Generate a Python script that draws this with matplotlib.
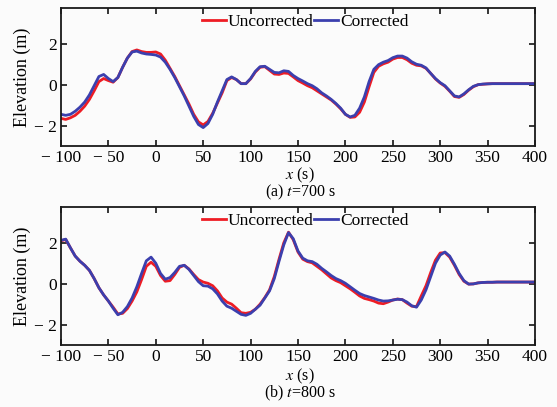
import numpy as np
import matplotlib.pyplot as plt

plt.rcParams['font.family'] = ['Liberation Serif', 'DejaVu Serif']
plt.rcParams['mathtext.fontset'] = 'stix'

# sample positions along the section
x = list(range(-100, 405, 5))

# (a) t = 700 s
a_uncorr = [-1.65, -1.70, -1.62, -1.50, -1.30, -1.05, -0.72, -0.30, 0.15, 0.30,
            0.20, 0.12, 0.35, 0.85, 1.30, 1.62, 1.70, 1.62, 1.58, 1.58,
            1.60, 1.50, 1.20, 0.80, 0.40, -0.05, -0.50, -0.95, -1.45, -1.82,
            -1.97, -1.80, -1.40, -0.90, -0.40, 0.20, 0.35, 0.25, 0.05, 0.05,
            0.28, 0.62, 0.85, 0.88, 0.70, 0.52, 0.50, 0.57, 0.55, 0.38,
            0.20, 0.08, -0.05, -0.15, -0.30, -0.45, -0.60, -0.75, -0.95, -1.18,
            -1.45, -1.60, -1.58, -1.35, -0.85, -0.10, 0.60, 0.90, 1.02, 1.10,
            1.25, 1.33, 1.33, 1.22, 1.05, 0.95, 0.92, 0.80, 0.55, 0.28,
            0.08, -0.08, -0.32, -0.58, -0.62, -0.48, -0.27, -0.10, 0.00, 0.02,
            0.04, 0.05, 0.05, 0.05, 0.05, 0.05, 0.05, 0.05, 0.05, 0.05,
            0.05]
a_corr = [-1.45, -1.50, -1.45, -1.30, -1.10, -0.85, -0.50, -0.05, 0.40, 0.50,
          0.30, 0.15, 0.35, 0.85, 1.30, 1.60, 1.64, 1.55, 1.50, 1.48,
          1.45, 1.35, 1.10, 0.75, 0.35, -0.10, -0.55, -1.05, -1.55, -1.95,
          -2.10, -1.90, -1.45, -0.85, -0.30, 0.25, 0.38, 0.25, 0.05, 0.05,
          0.30, 0.65, 0.88, 0.90, 0.75, 0.60, 0.58, 0.68, 0.65, 0.45,
          0.30, 0.18, 0.05, -0.05, -0.20, -0.40, -0.55, -0.72, -0.92, -1.15,
          -1.45, -1.58, -1.50, -1.15, -0.60, 0.15, 0.75, 0.98, 1.10, 1.18,
          1.32, 1.40, 1.40, 1.30, 1.12, 1.00, 0.95, 0.82, 0.55, 0.30,
          0.10, -0.05, -0.30, -0.55, -0.60, -0.45, -0.25, -0.08, 0.00, 0.03,
          0.04, 0.05, 0.05, 0.05, 0.05, 0.05, 0.05, 0.05, 0.05, 0.05,
          0.05]

# (b) t = 800 s
b_uncorr = [2.10, 2.16, 1.75, 1.35, 1.10, 0.90, 0.65, 0.25, -0.20, -0.55,
            -0.85, -1.15, -1.48, -1.45, -1.22, -0.85, -0.40, 0.20, 0.85, 1.05,
            0.85, 0.40, 0.12, 0.15, 0.45, 0.80, 0.90, 0.72, 0.45, 0.20,
            0.08, 0.02, -0.10, -0.35, -0.70, -0.90, -1.00, -1.20, -1.42, -1.45,
            -1.40, -1.25, -1.00, -0.68, -0.30, 0.35, 1.20, 2.00, 2.52, 2.15,
            1.55, 1.20, 1.08, 1.02, 0.85, 0.68, 0.48, 0.28, 0.15, 0.05,
            -0.10, -0.25, -0.42, -0.60, -0.72, -0.78, -0.85, -0.95, -0.98, -0.90,
            -0.80, -0.75, -0.78, -0.95, -1.10, -1.12, -0.60, -0.10, 0.55, 1.15,
            1.50, 1.52, 1.30, 0.90, 0.45, 0.12, -0.02, -0.01, 0.04, 0.06,
            0.07, 0.07, 0.08, 0.08, 0.08, 0.08, 0.08, 0.08, 0.08, 0.08,
            0.08]
b_corr = [2.12, 2.18, 1.75, 1.35, 1.10, 0.90, 0.65, 0.25, -0.20, -0.55,
          -0.85, -1.20, -1.52, -1.40, -1.12, -0.70, -0.15, 0.50, 1.12, 1.30,
          1.00, 0.50, 0.22, 0.30, 0.55, 0.85, 0.90, 0.70, 0.40, 0.10,
          -0.10, -0.12, -0.25, -0.50, -0.85, -1.10, -1.20, -1.35, -1.50, -1.55,
          -1.45, -1.25, -1.05, -0.70, -0.35, 0.25, 1.10, 1.90, 2.50, 2.20,
          1.60, 1.25, 1.12, 1.08, 0.95, 0.75, 0.58, 0.40, 0.25, 0.15,
          0.02, -0.15, -0.32, -0.48, -0.58, -0.65, -0.72, -0.80, -0.85, -0.84,
          -0.80, -0.76, -0.78, -0.90, -1.08, -1.15, -0.80, -0.30, 0.35, 1.00,
          1.40, 1.55, 1.35, 0.95, 0.50, 0.15, -0.02, -0.01, 0.04, 0.06,
          0.07, 0.07, 0.08, 0.08, 0.08, 0.08, 0.08, 0.08, 0.08, 0.08,
          0.08]

xticks = [-100, -50, 0, 50, 100, 150, 200, 250, 300, 350, 400]
xticklabels = ['\u2212 100', '\u2212 50', '0', '50', '100', '150', '200',
               '250', '300', '350', '400']
yticks = [-2, 0, 2]
yticklabels = ['\u2212 2', '0', '2']
captions = ['(a) $t$=700 s', '(b) $t$=800 s']

RED = '#ee1c24'
BLUE = '#3b3fae'
FS = 12.5

fig = plt.figure(figsize=(5.57, 4.07), dpi=100, facecolor='#fbfbfb')
panels = [(a_uncorr, a_corr), (b_uncorr, b_corr)]
bottoms = [0.6413, 0.1523]
label_y = [184, 385]

for k, (unc, cor) in enumerate(panels):
    ax = fig.add_axes([0.1095, bottoms[k], 0.851, 0.339])
    ax.set_facecolor('#fbfbfb')
    ax.plot(x, unc, color=RED, lw=2.0, label='Uncorrected')
    ax.plot(x, cor, color=BLUE, lw=2.0, label='Corrected')
    ax.set_xlim(-100, 400)
    ax.set_ylim(-3, 3.75)
    ax.set_xticks(xticks)
    ax.set_xticklabels(xticklabels)
    ax.set_yticks(yticks)
    ax.set_yticklabels(yticklabels)
    ax.tick_params(direction='in', top=True, right=True, length=4, width=1.1,
                   labelsize=FS, pad=3)
    for s in ax.spines.values():
        s.set_linewidth(1.3)
        s.set_color('#1a1a1a')
    ax.set_ylabel('Elevation (m)', fontsize=13, labelpad=2)
    ax.legend(loc='upper center', bbox_to_anchor=(0.515, 1.03), ncol=2,
              frameon=False, fontsize=FS, handlelength=1.4, handletextpad=0.1,
              columnspacing=0.0, borderaxespad=0.2)
    # axis title and panel caption stacked under the tick labels
    fig.text(300 / 557, 1 - label_y[k] / 407, '$x$ (s)\n' + captions[k],
             ha='center', va='center', multialignment='center',
             fontsize=11.5, linespacing=0.8)

fig.savefig('out.png', dpi=100, facecolor=fig.get_facecolor())
